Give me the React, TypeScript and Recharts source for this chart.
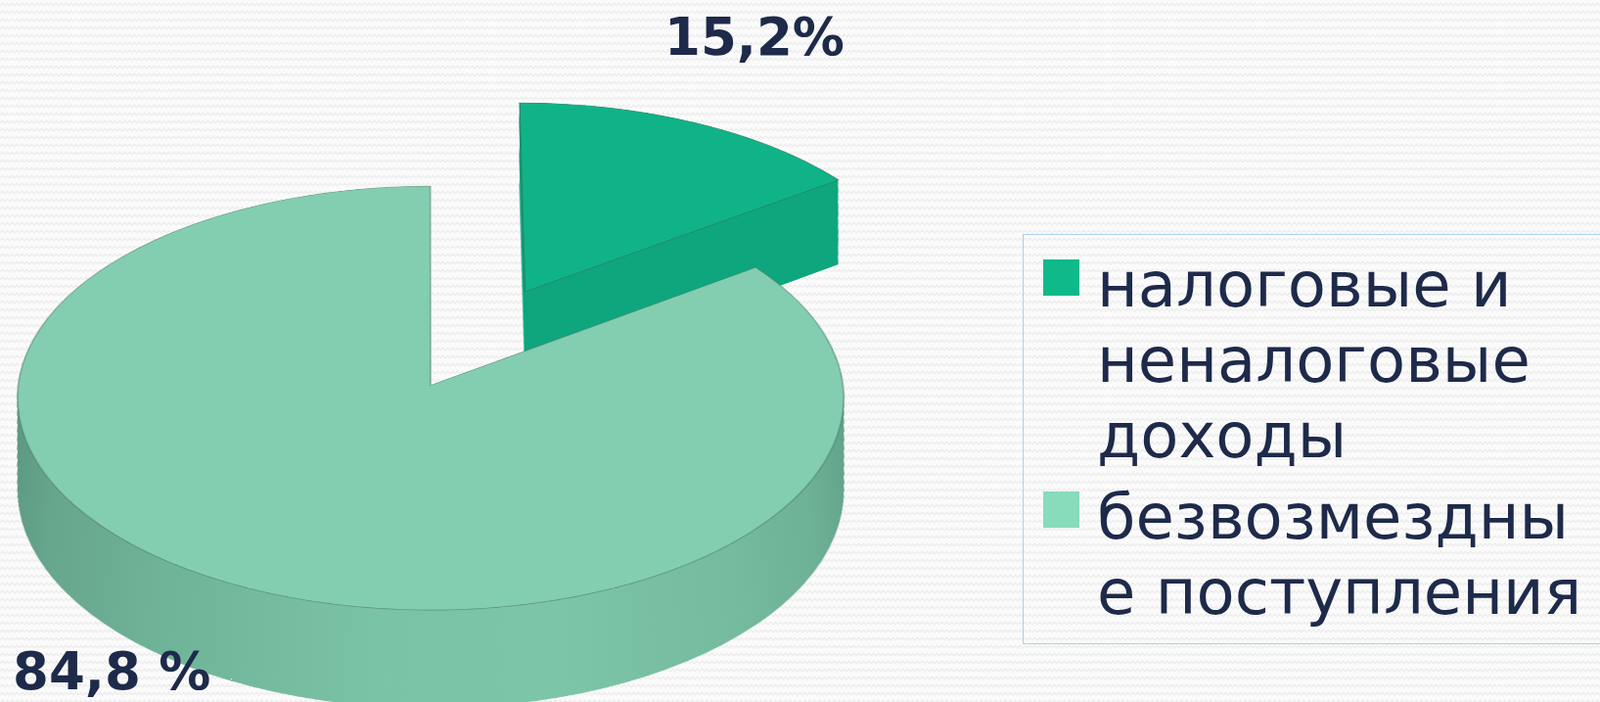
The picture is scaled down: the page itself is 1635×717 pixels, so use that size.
import React from 'react';
import { PieChart, Pie, Cell } from 'recharts';

// данные диаграммы
const categories = ['налоговые и неналоговые доходы', 'безвозмездные поступления'];
const shares = [15.2, 84.8];
const valueLabels = ['15,2%', '84,8 %'];
const legendLines = [
  ['налоговые и', 'неналоговые', 'доходы'],
  ['безвозмездны', 'е поступления'],
];

const topColors = ['#10b387', '#83ceb0'];
const legendColors = ['#10b98a', '#88dbbb'];
const sideColor = '#0fa67e';
const textColor = '#1e2a4a';

const data = categories.map((name, i) => ({ name, value: shares[i] }));

// "3D" pie: flat Recharts pie tilted with a CSS perspective,
// side is made of stacked copies shifted in the plane
const P = 6000;
const TILT = 59.23;
const SIN = Math.sin((TILT * Math.PI) / 180);
const R = 421;
const DEPTH = 179;
const STEP = 2;
const EXPLODE = 216;
const ORIGIN = { x: 438, y: 630 }; // center of the main pie before the tilt
const SCREEN_CENTER = { x: 435, y: 391 };

const midAngle = 90 - ((shares[0] / 2) / 100) * 360;
const expl = {
  x: EXPLODE * Math.cos((midAngle * Math.PI) / 180),
  y: -EXPLODE * Math.sin((midAngle * Math.PI) / 180),
};

const depths: number[] = [];
for (let d = DEPTH; d > 0; d -= STEP) depths.push(d);

// layer placement so the side drops straight down after projection
const layer = (cx: number, cy: number, d: number) => {
  const f = (P - (cy + d) * SIN) / (P - cy * SIN);
  return { cx: ORIGIN.x + f * cx, cy: ORIGIN.y + cy + d, r: R * f };
};

const FONT = '"DejaVu Sans", Verdana, sans-serif';

export default function App() {
  return (
    <div
      style={{
        position: 'fixed',
        left: 0,
        top: 0,
        width: 1635,
        height: 717,
        overflow: 'hidden',
        background: '#fbfbfb',
      }}
    >
      <svg width={1635} height={717} style={{ position: 'absolute', left: 0, top: 0 }}>
        <defs>
          <pattern id="bgWave" width={10} height={8} patternUnits="userSpaceOnUse">
            <path d="M0 6 L2.5 3 L5 6 L7.5 3 L10 6" fill="none" stroke="#eeeeee" strokeWidth={1.2} />
          </pattern>
        </defs>
        <rect width={1635} height={717} fill="url(#bgWave)" />
      </svg>

      <div style={{ position: 'absolute', left: 0, top: 0, width: 900, height: 717, overflow: 'hidden' }}>
        <div
          style={{
            position: 'absolute',
            left: SCREEN_CENTER.x - ORIGIN.x,
            top: SCREEN_CENTER.y - ORIGIN.y,
            width: 900,
            height: 1270,
            transformOrigin: `${ORIGIN.x}px ${ORIGIN.y}px`,
            transform: `perspective(${P}px) rotateX(${TILT}deg)`,
          }}
        >
          <PieChart width={900} height={1270}>
            <defs>
              <linearGradient id="mainSide" gradientUnits="userSpaceOnUse" x1={ORIGIN.x - R} y1={0} x2={ORIGIN.x + R} y2={0}>
                <stop offset="0" stopColor="#5a967e" />
                <stop offset="0.06" stopColor="#66a68c" />
                <stop offset="0.2" stopColor="#6fb398" />
                <stop offset="0.45" stopColor="#7bc3a6" />
                <stop offset="0.65" stopColor="#7dc5a7" />
                <stop offset="0.85" stopColor="#75bb9e" />
                <stop offset="0.95" stopColor="#6db196" />
                <stop offset="1" stopColor="#62a48a" />
              </linearGradient>
            </defs>

            {/* выдвинутый сектор */}
            {depths.map((d) => {
              const l = layer(expl.x, expl.y, d);
              return (
                <Pie
                  key={'es' + d}
                  data={data}
                  dataKey="value"
                  cx={l.cx}
                  cy={l.cy}
                  outerRadius={l.r}
                  startAngle={90}
                  endAngle={-270}
                  stroke="none"
                  isAnimationActive={false}
                >
                  <Cell fill={sideColor} />
                  <Cell fill="none" />
                </Pie>
              );
            })}
            <Pie
              data={data}
              dataKey="value"
              cx={ORIGIN.x + expl.x}
              cy={ORIGIN.y + expl.y}
              outerRadius={R}
              startAngle={90}
              endAngle={-270}
              isAnimationActive={false}
            >
              <Cell fill={topColors[0]} stroke="#3d6b5c" strokeOpacity={0.6} strokeWidth={1.5} />
              <Cell fill="none" stroke="none" />
            </Pie>

            {/* основной сектор */}
            {depths.map((d) => {
              const l = layer(0, 0, d);
              return (
                <Pie
                  key={'ms' + d}
                  data={data}
                  dataKey="value"
                  cx={l.cx}
                  cy={l.cy}
                  outerRadius={l.r}
                  startAngle={90}
                  endAngle={-270}
                  stroke="none"
                  isAnimationActive={false}
                >
                  <Cell fill="none" />
                  <Cell fill="url(#mainSide)" />
                </Pie>
              );
            })}
            <Pie
              data={data}
              dataKey="value"
              cx={ORIGIN.x}
              cy={ORIGIN.y}
              outerRadius={R}
              startAngle={90}
              endAngle={-270}
              isAnimationActive={false}
            >
              <Cell fill="none" stroke="none" />
              <Cell fill={topColors[1]} stroke="#4f7f6c" strokeOpacity={0.6} strokeWidth={1.5} />
            </Pie>
          </PieChart>
        </div>
      </div>

      <svg
        width={1635}
        height={717}
        style={{ position: 'absolute', left: 0, top: 0, pointerEvents: 'none' }}
      >
        <text x={679} y={56} fontFamily={FONT} fontWeight="bold" fontSize={53} fill={textColor}>
          {valueLabels[0]}
        </text>
        <text x={13} y={704} fontFamily={FONT} fontWeight="bold" fontSize={53} fill={textColor}>
          {valueLabels[1]}
        </text>

        <rect x={1045.5} y={239.5} width={640} height={418} fill="none" stroke="#a9d0ef" strokeWidth={1} />
        {legendLines.map((lines, i) => {
          const base = i === 0 ? 313 : 550;
          return (
            <g key={i}>
              <rect x={1066} y={base - 48} width={37} height={37} fill={legendColors[i]} />
              {lines.map((ln, j) => (
                <text key={j} x={1121} y={base + j * 77} fontFamily={FONT} fontSize={64} fill={textColor}>
                  {ln}
                </text>
              ))}
            </g>
          );
        })}
      </svg>
    </div>
  );
}
